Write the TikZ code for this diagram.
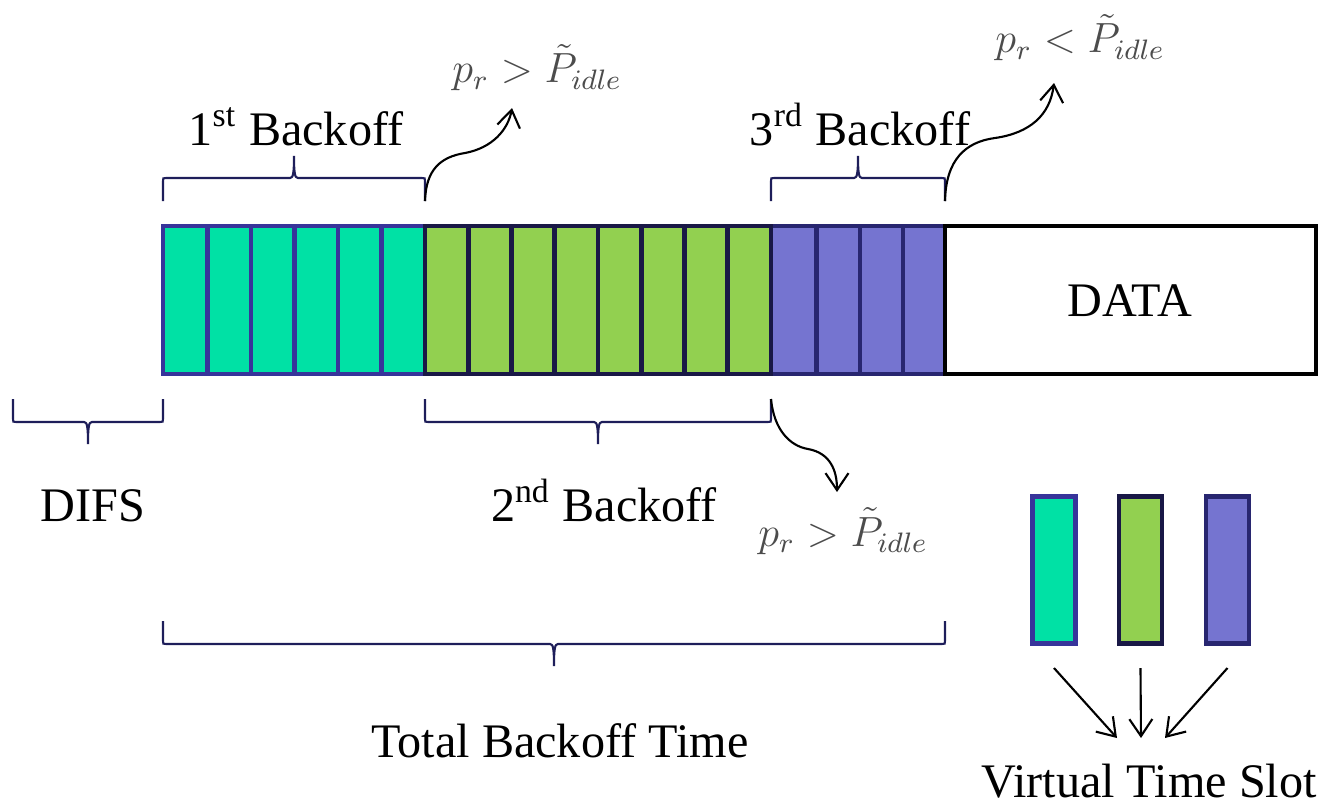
\documentclass[tikz,border=0pt]{standalone}
\usepackage{fontspec}
\setmainfont{Liberation Serif}
\usetikzlibrary{arrows.meta}
\usetikzlibrary{positioning}

\definecolor{slotgreen}{RGB}{0,225,165}
\definecolor{slotgreenedge}{RGB}{55,52,154}
\definecolor{slotlime}{RGB}{146,208,80}
\definecolor{slotlimeedge}{RGB}{25,24,70}
\definecolor{slotviolet}{RGB}{117,116,208}
\definecolor{slotvioletedge}{RGB}{40,38,112}
\definecolor{bracenavy}{RGB}{30,30,90}

% brace from x=#1 to x=#2, arms start at y=#3; #4=-1 opens up, #4=1 opens down
\newcommand{\slotbrace}[4]{%
\draw[bracepath] (#1,#3) -- (#1,{#3+(#4)*20})
 .. controls (#1,{#3+(#4)*23}) .. ({#1+3},{#3+(#4)*23})
 -- ({(#1+#2)/2-4},{#3+(#4)*23})
 .. controls ({(#1+#2)/2-1},{#3+(#4)*23}) and ({(#1+#2)/2},{#3+(#4)*27}) .. ({(#1+#2)/2},{#3+(#4)*45})
 .. controls ({(#1+#2)/2},{#3+(#4)*27}) and ({(#1+#2)/2+1},{#3+(#4)*23}) .. ({(#1+#2)/2+4},{#3+(#4)*23})
 -- ({#2-3},{#3+(#4)*23})
 .. controls (#2,{#3+(#4)*23}) .. (#2,{#3+(#4)*20})
 -- (#2,#3);}

\begin{document}
\begin{tikzpicture}[x=0.01cm,y=-0.01cm,
  gcell/.style={fill=slotgreen,draw=slotgreenedge,line width=1.4pt},
  lcell/.style={fill=slotlime,draw=slotlimeedge,line width=1.4pt},
  vcell/.style={fill=slotviolet,draw=slotvioletedge,line width=1.4pt},
  bracepath/.style={draw=bracenavy,line width=0.6pt},
  curvearrow/.style={-{Straight Barb[length=1.7mm,width=2.3mm]},line width=0.6pt},
  lbl/.style={font=\fontsize{13.7}{16}\selectfont,inner sep=0pt},
  cond/.style={font=\fontsize{12}{14}\selectfont,text=black!70,inner sep=0pt},
  slot/.style={rectangle,line width=1.4pt,minimum width=0.43cm,minimum height=1.47cm,inner sep=0pt}]
\useasboundingbox (0,0) rectangle (1323,803);

% 1st backoff slots
\draw[gcell] (163,226) rectangle (207.5,374);
\draw[gcell] (207.5,226) rectangle (251,374);
\draw[gcell] (251,226) rectangle (294.5,374);
\draw[gcell] (294.5,226) rectangle (338,374);
\draw[gcell] (338,226) rectangle (381.5,374);
\draw[gcell] (381.5,226) rectangle (425,374);
% 3rd backoff slots
\draw[vcell] (771,226) rectangle (816.5,374);
\draw[vcell] (816.5,226) rectangle (860,374);
\draw[vcell] (860,226) rectangle (903,374);
\draw[vcell] (903,226) rectangle (945,374);
% 2nd backoff slots
\draw[lcell] (425,226) rectangle (468.25,374);
\draw[lcell] (468.25,226) rectangle (511.5,374);
\draw[lcell] (511.5,226) rectangle (554.75,374);
\draw[lcell] (554.75,226) rectangle (598,374);
\draw[lcell] (598,226) rectangle (641.25,374);
\draw[lcell] (641.25,226) rectangle (684.5,374);
\draw[lcell] (684.5,226) rectangle (727.75,374);
\draw[lcell] (727.75,226) rectangle (771,374);
% data frame
\draw[line width=1.4pt] (945,226) rectangle (1316,374);
\node[lbl] (data) at (1130,301) {DATA};

% braces
\slotbrace{163}{425}{201}{-1}
\slotbrace{771}{945}{201}{-1}
\slotbrace{13}{163}{399}{1}
\slotbrace{425}{771}{399}{1}
\slotbrace{163}{945}{621}{1}

\node[lbl,anchor=base] (b1lbl) at (296,145) {1\textsuperscript{st} Backoff};
\node[lbl,anchor=base] (b3lbl) at (860,145) {3\textsuperscript{rd} Backoff};
\node[lbl,anchor=base] (b2lbl) at (604,521) {2\textsuperscript{nd} Backoff};
\node[lbl,anchor=base] (difs) at (93,521) {DIFS};
\node[lbl,anchor=base] (total) at (560,757) {Total Backoff Time};

% idle probability checks
\node[cond,anchor=base] (c1) at (537,83) {$p_r > \tilde{P}_{idle}$};
\node[cond,anchor=base] (c3) at (1080,53) {$p_r < \tilde{P}_{idle}$};
\node[cond,anchor=base] (c2) at (843,546) {$p_r > \tilde{P}_{idle}$};

\coordinate (b1end) at (425,201);
\coordinate (b3end) at (945,201);
\coordinate (b2end) at (771,399);
\coordinate (c1in) at (512,108);
\coordinate (c3in) at (1054,83);
\coordinate (c2in) at (837,492);
\draw[curvearrow] (b1end) .. controls (426,170) and (440,157) .. (465,153) .. controls (492,148) and (508,130) .. (c1in);
\draw[curvearrow] (b3end) .. controls (946,160) and (965,142) .. (995,138) .. controls (1030,133) and (1050,115) .. (c3in);
\draw[curvearrow] (b2end) .. controls (774,430) and (790,446) .. (808,449) .. controls (830,453) and (837,470) .. (c2in);

% virtual time slot
\node[slot,fill=slotgreen,draw=slotgreenedge] (vs1) at (1054,570) {};
\node[slot,fill=slotlime,draw=slotlimeedge] (vs2) at (1140.5,570) {};
\node[slot,fill=slotviolet,draw=slotvioletedge] (vs3) at (1227.5,570) {};
\node[lbl,anchor=base] (vts) at (1149,797) {Virtual Time Slot};
\coordinate (vt1) at (1117,738);
\coordinate (vt2) at (1141,738);
\coordinate (vt3) at (1165,738);
\draw[curvearrow] ([yshift=-0.22cm]vs1.south) -- (vt1);
\draw[curvearrow] ([yshift=-0.22cm]vs2.south) -- (vt2);
\draw[curvearrow] ([yshift=-0.22cm]vs3.south) -- (vt3);

\end{tikzpicture}
\end{document}
